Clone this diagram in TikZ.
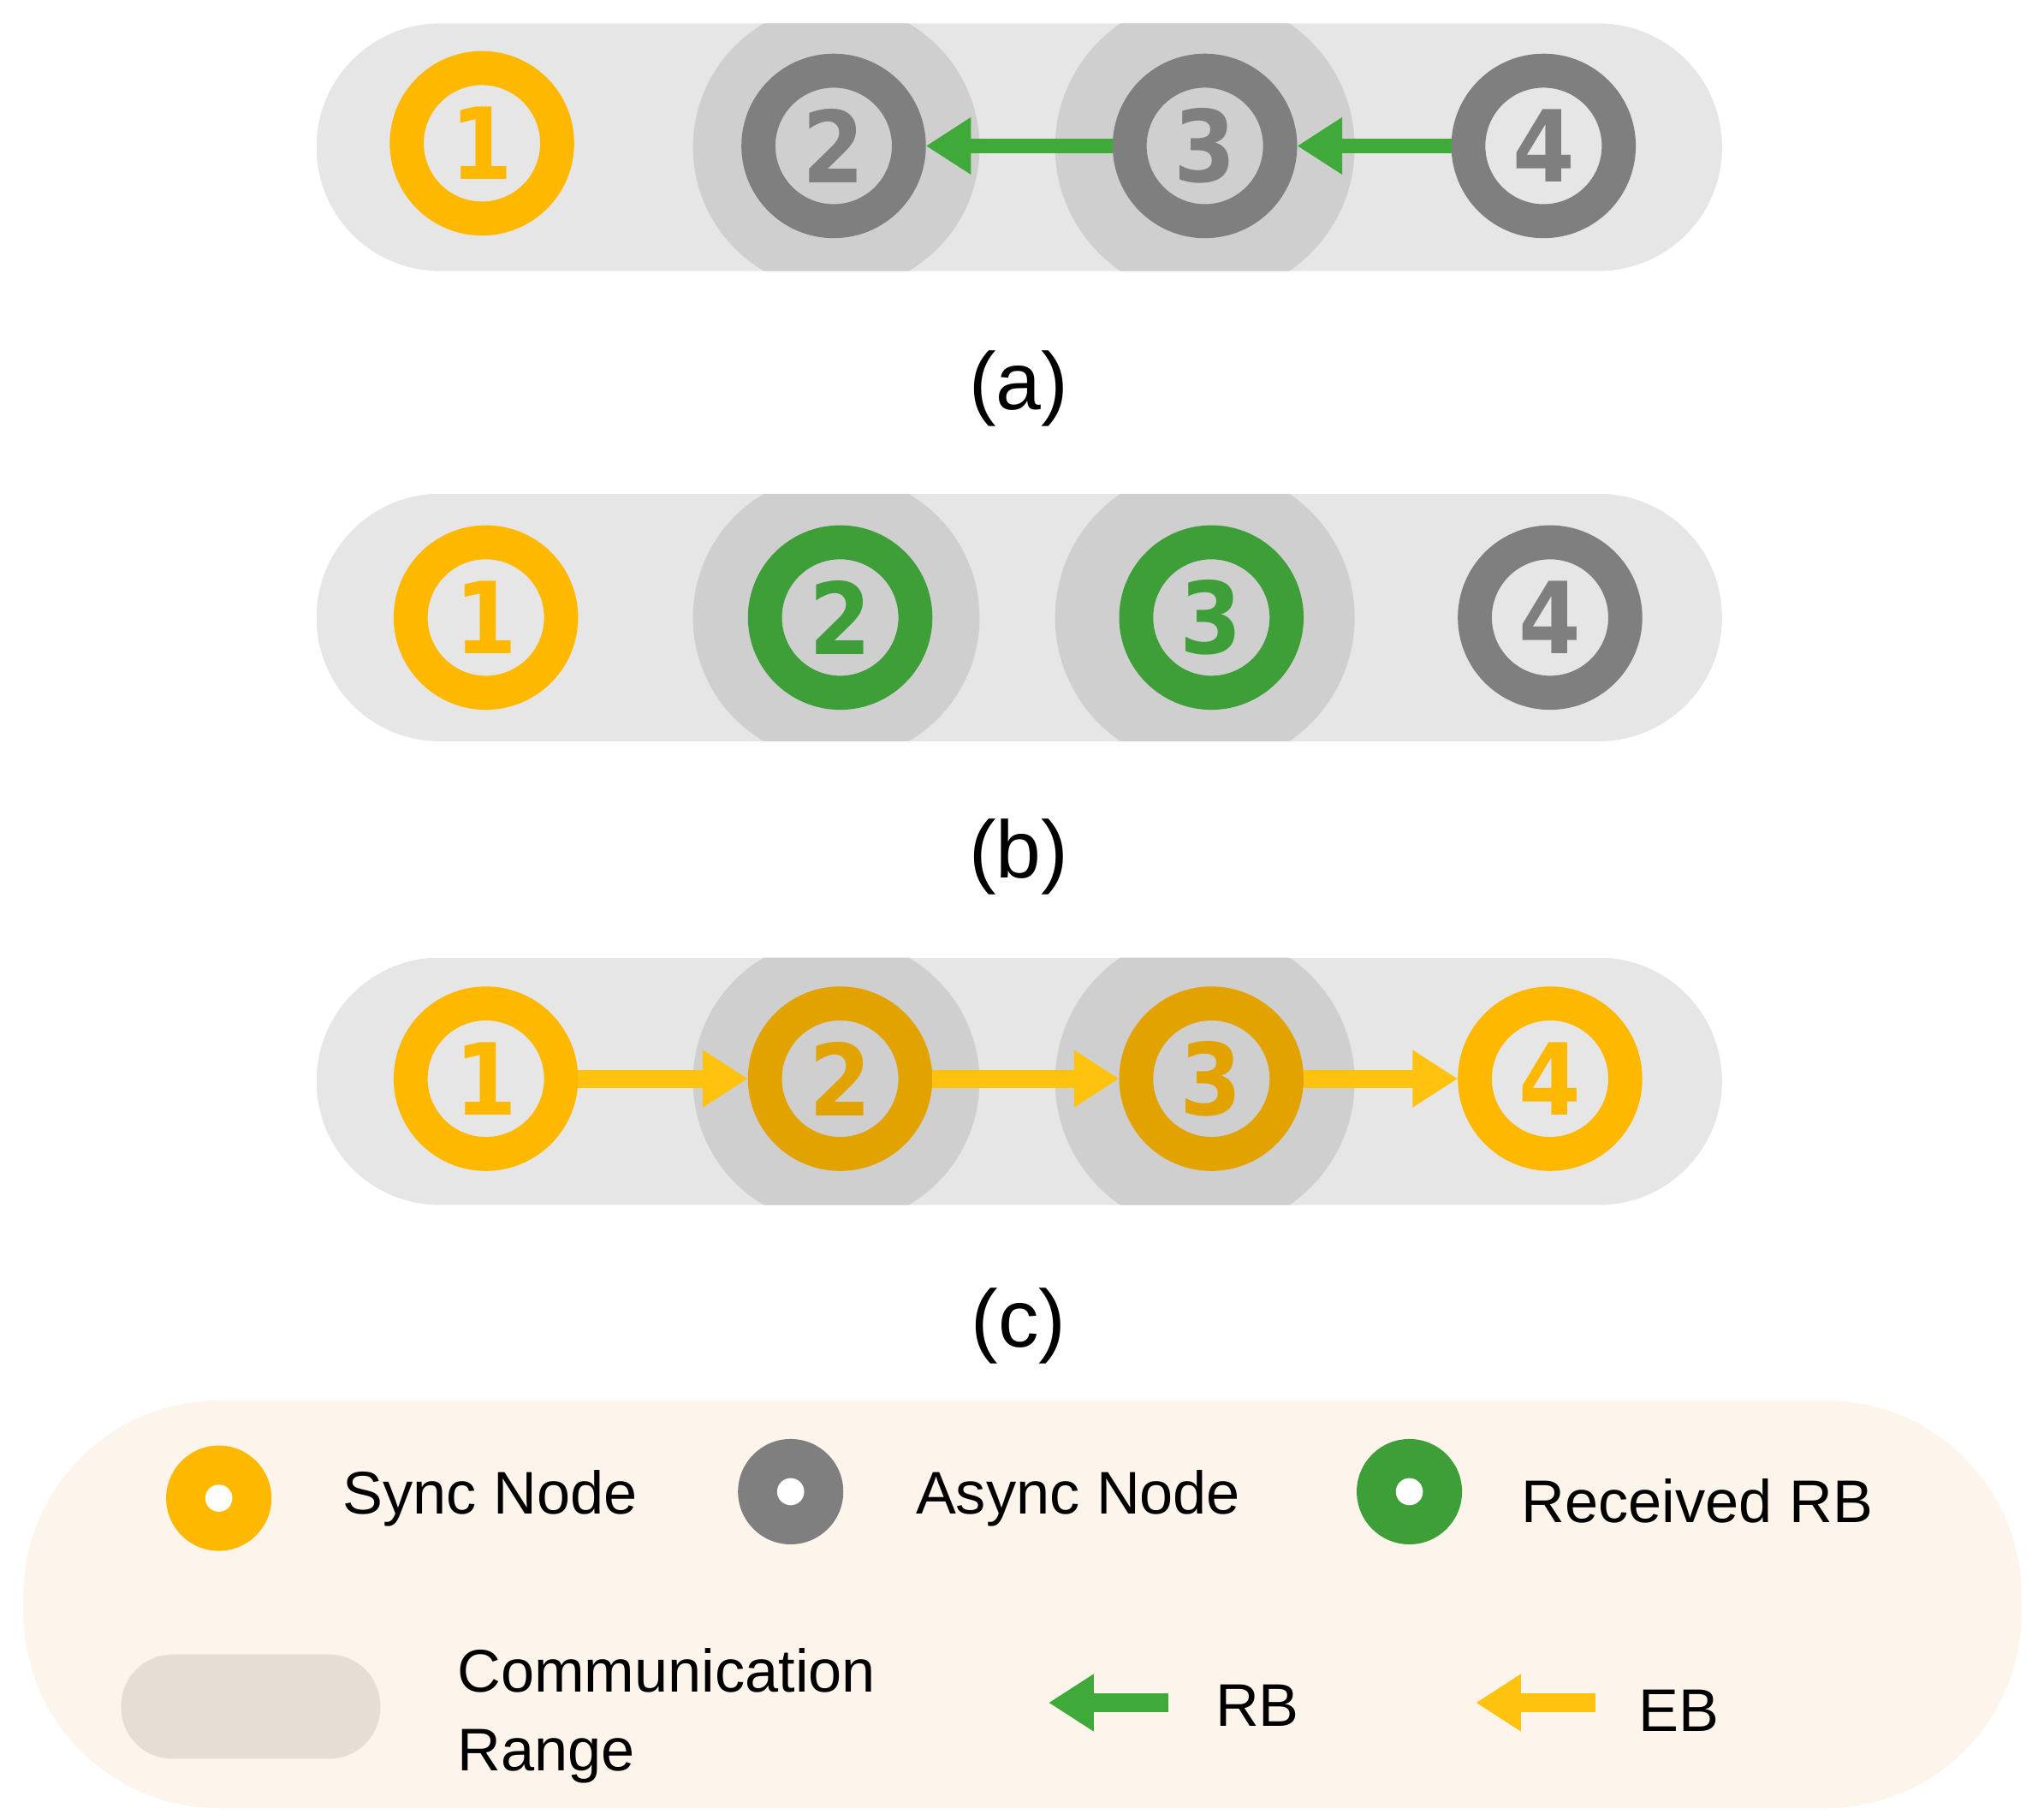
\documentclass[tikz,border=0pt]{standalone}
\usepackage{fontspec}
\setmainfont{Liberation Sans}
\newfontfamily\numf{DejaVu Sans Condensed}
\usetikzlibrary{arrows.meta}
\definecolor{sync}{HTML}{FFB800}
\definecolor{syncd}{HTML}{E2A300}
\definecolor{async}{HTML}{7F7F7F}
\definecolor{rcv}{HTML}{3E9E38}
\definecolor{pill}{HTML}{E6E6E6}
\definecolor{rng}{HTML}{CFCFCF}
\definecolor{legbg}{HTML}{FDF5EC}
\definecolor{legpill}{HTML}{E6DDD5}
\definecolor{ebc}{HTML}{FFC20E}
\definecolor{rbc}{HTML}{3FAA3A}
\tikzset{
 ring/.style={circle,draw=#1,text=#1,line width=11.3pt,minimum size=50pt,inner sep=0pt,font=\numf\bfseries\fontsize{33}{33}\selectfont},
 lab/.style={font=\rmfamily\fontsize{27}{27}\selectfont},
 leg/.style={font=\fontsize{20}{24}\selectfont,anchor=west,align=left},
 rb/.style={draw=rbc,line width=5pt,-{Triangle[length=15pt,width=18pt]}},
 eb/.style={draw=ebc,line width=6pt,-{Triangle[length=15pt,width=18pt]}},
 dot/.style={circle,fill=#1,minimum size=35pt,inner sep=0pt,path picture={\fill[white](path picture bounding box.center) circle (4.5pt);}}
}
\newcommand{\panel}[1]{%
 \begin{scope}
  \clip[rounded corners=41pt] (243,#1-95) rectangle (1322,#1+95);
  \fill[pill] (243,#1-95) rectangle (1322,#1+95);
  \fill[rng] (642,#1) circle (110);
  \fill[rng] (925,#1) circle (115);
 \end{scope}}
\begin{document}
\begin{tikzpicture}[x=0.01522cm,y=-0.01522cm]
\useasboundingbox (0,0) rectangle (1560,1397);
% (a)
\panel{113}
\node[ring=sync] (a1) at (370,110) {1};
\node[ring=async] (a2) at (640,112) {2};
\node[ring=async] (a3) at (925,112) {3};
\node[ring=async] (a4) at (1185,112) {4};
\draw[rb] (a4) -- (a3);
\draw[rb] (a3) -- (a2);
\node[lab] (la) at (782,298) {(a)};
% (b)
\panel{474}
\node[ring=sync] (b1) at (373,474) {1};
\node[ring=rcv] (b2) at (645,474) {2};
\node[ring=rcv] (b3) at (930,474) {3};
\node[ring=async] (b4) at (1190,474) {4};
\node[lab] (lb) at (782,658) {(b)};
% (c)
\panel{830}
\node[ring=sync] (c1) at (373,828) {1};
\node[ring=syncd] (c2) at (645,828) {2};
\node[ring=syncd] (c3) at (930,828) {3};
\node[ring=sync] (c4) at (1190,828) {4};
\draw[eb] (c1) -- (c2);
\draw[eb] (c2) -- (c3);
\draw[eb] (c3) -- (c4);
\node[lab] (lc) at (782,1018) {(c)};
% legend
\fill[legbg,rounded corners=65pt] (18,1075) rectangle (1552,1388);
\node[dot=sync] (d1) at (168,1150) {};
\node[leg] (t1) at (255,1150) {Sync Node};
\node[dot=async] (d2) at (607,1145) {};
\node[leg] (t2) at (695,1150) {Async Node};
\node[dot=rcv] (d3) at (1082,1145) {};
\node[leg] (t3) at (1160,1152) {Received RB};
\fill[legpill,rounded corners=17pt] (93,1270) rectangle (292,1350);
\node[leg,font=\fontsize{20}{26}\selectfont] (t4) at (343,1317) {Communication\\Range};
\coordinate (r1) at (897,1307); \coordinate (r2) at (805,1307);
\draw[rb,line width=6pt] (r1) -- (r2);
\node[leg] (t5) at (925,1309) {RB};
\coordinate (e1) at (1225,1307); \coordinate (e2) at (1133,1307);
\draw[eb] (e1) -- (e2);
\node[leg] (t6) at (1250,1313) {EB};
\end{tikzpicture}
\end{document}
